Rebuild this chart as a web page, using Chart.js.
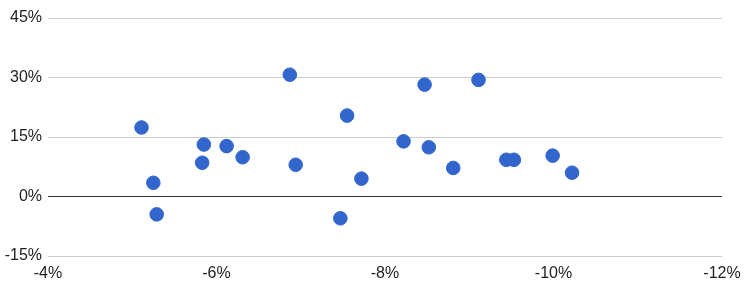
<!DOCTYPE html>
<html>
<head>
<meta charset="utf-8">
<script src="https://cdn.jsdelivr.net/npm/chart.js@4"></script>
<style>
  html, body { margin: 0; padding: 0; background: #fff; }
</style>
</head>
<body>
<canvas id="scatterChart" width="749" height="288"></canvas>
<script>
// Données (en %)
const xValues = [-5.11, -5.25, -5.29, -5.83, -5.85, -6.12, -6.31, -6.87, -6.94, -7.47, -7.55,
                 -7.72, -8.22, -8.47, -8.52, -8.81, -9.11, -9.44, -9.53, -9.99, -10.22];
const yValues = [17.4, 3.45, -4.5, 8.5, 13.1, 12.7, 9.9, 30.7, 8.0, -5.5, 20.4,
                 4.5, 13.9, 28.2, 12.4, 7.2, 29.4, 9.25, 9.25, 10.3, 6.0];
const xTicks = [-4, -6, -8, -10, -12];
const yTicks = [-15, 0, 15, 30, 45];

const points = xValues.map((x, i) => ({ x: x, y: yValues[i] }));

const ctx = document.getElementById('scatterChart').getContext('2d');
new Chart(ctx, {
    type: 'scatter',
    data: {
        datasets: [{
            data: points,
            backgroundColor: '#3366cc',
            borderColor: '#3366cc',
            pointRadius: 6.8,
            pointHoverRadius: 6.8
        }]
    },
    options: {
        responsive: false,
        animation: false,
        layout: { padding: { top: 18, right: 27, left: 0, bottom: 0 } },
        plugins: {
            legend: { display: false },
            tooltip: { enabled: false }
        },
        scales: {
            x: {
                type: 'linear',
                min: -12,
                max: -4,
                reverse: true,
                afterBuildTicks: axis => { axis.ticks = xTicks.map(v => ({ value: v })); },
                afterFit: axis => { axis.height = 32; },
                grid: { display: false, drawTicks: false },
                border: { display: false },
                ticks: {
                    padding: 8,
                    color: '#222',
                    font: { family: 'Liberation Sans, Arial', size: 16 },
                    callback: v => v + '%'
                }
            },
            y: {
                min: -15,
                max: 45,
                afterBuildTicks: axis => { axis.ticks = yTicks.map(v => ({ value: v })); },
                afterFit: axis => { axis.width = 48; },
                grid: {
                    drawTicks: false,
                    color: c => c.tick && c.tick.value === 0 ? '#333' : '#ccc'
                },
                border: { display: false },
                ticks: {
                    padding: 6,
                    color: '#222',
                    font: { family: 'Liberation Sans, Arial', size: 16 },
                    callback: v => v + '%'
                }
            }
        }
    }
});
</script>
</body>
</html>
